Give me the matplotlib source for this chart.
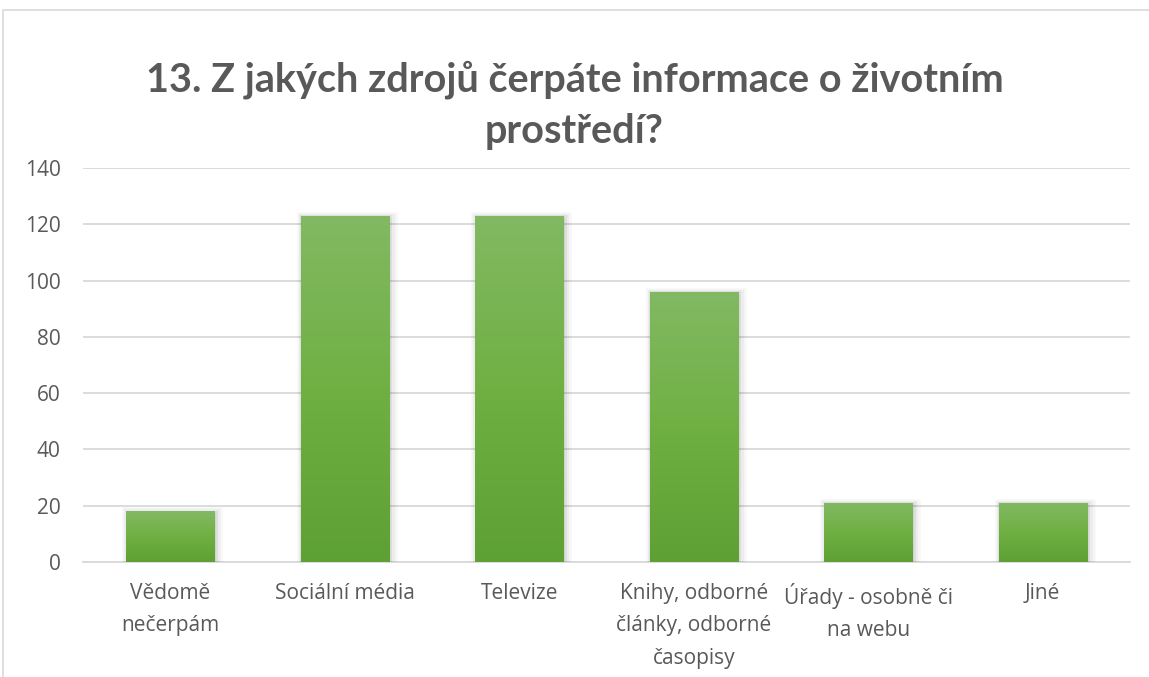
import numpy as np
import matplotlib
matplotlib.use("Agg")
import matplotlib.pyplot as plt
import matplotlib.patheffects as pe
from matplotlib.patches import Rectangle
from matplotlib.colors import LinearSegmentedColormap

title = "13. Z jakých zdrojů čerpáte informace o životním\nprostředí?"
categories = ["Vědomě\nnečerpám", "Sociální média", "Televize",
              "Knihy, odborné\nčlánky, odborné\nčasopisy",
              "Úřady - osobně či\nna webu", "Jiné"]
values = [18, 123, 123, 96, 21, 21]
yticks = [0, 20, 40, 60, 80, 100, 120, 140]

plt.rcParams['font.family'] = ['Open Sans', 'DejaVu Sans']
W, H = 1149, 677
fig = plt.figure(figsize=(W / 100, H / 100), dpi=100)
fig.patch.set_facecolor('white')

# chart area border
fig.patches.append(Rectangle((3 / W, -0.1), 1.2, 1 - 10 / H + 0.1, transform=fig.transFigure,
                             fill=False, edgecolor='#d9d9d9', linewidth=1.2))

ax = fig.add_axes([83 / W, 1 - 562 / H, (1130 - 83) / W, (562 - 168) / H])
x = np.arange(len(categories))
bars = ax.bar(x, values, width=0.505, color='#70ad47', zorder=3)
ax.set_xlim(-0.5, len(categories) - 0.5)
ax.set_ylim(0, 140)
ax.set_yticks(yticks)
ax.set_xticks(x)
ax.set_xticklabels(categories, fontsize=15, color='#595959', linespacing=1.72, va='top')
ax.tick_params(axis='both', length=0, labelsize=15, labelcolor='#595959')
ax.tick_params(axis='x', pad=15)
ax.tick_params(axis='y', pad=16)
for s in ['top', 'right', 'left']:
    ax.spines[s].set_visible(False)
ax.spines['bottom'].set_color('#d9d9d9')
ax.spines['bottom'].set_linewidth(1.3)
ax.grid(axis='y', color='#d9d9d9', linewidth=1.3, zorder=0)
ax.set_axisbelow(True)

cmap = LinearSegmentedColormap.from_list('g', ['#5da033', '#70b043', '#82b963'])
grad = np.linspace(0, 1, 256).reshape(-1, 1)
for b in bars:
    b.set_path_effects([
        pe.Stroke(linewidth=9, foreground='black', alpha=0.03, offset=(1.5, -1.5)),
        pe.Stroke(linewidth=6, foreground='black', alpha=0.04, offset=(1.5, -1.5)),
        pe.Stroke(linewidth=3, foreground='black', alpha=0.06, offset=(1, -1)),
        pe.Normal()])
    bx, bw, bh = b.get_x(), b.get_width(), b.get_height()
    im = ax.imshow(grad, extent=(bx, bx + bw, 0, bh), origin='lower', cmap=cmap,
                   aspect='auto', zorder=4)
    im.set_clip_path(b)

ax.set_xlim(-0.5, len(categories) - 0.5)
ax.set_ylim(0, 140)

fig.text(0.5, 1 - 105 / H, title, ha='center', va='center', fontsize=28.5, fontweight='bold',
         color='#595959', linespacing=1.47, family=['Lato', 'DejaVu Sans'])

fig.savefig('out.png', dpi=100, facecolor='white')
